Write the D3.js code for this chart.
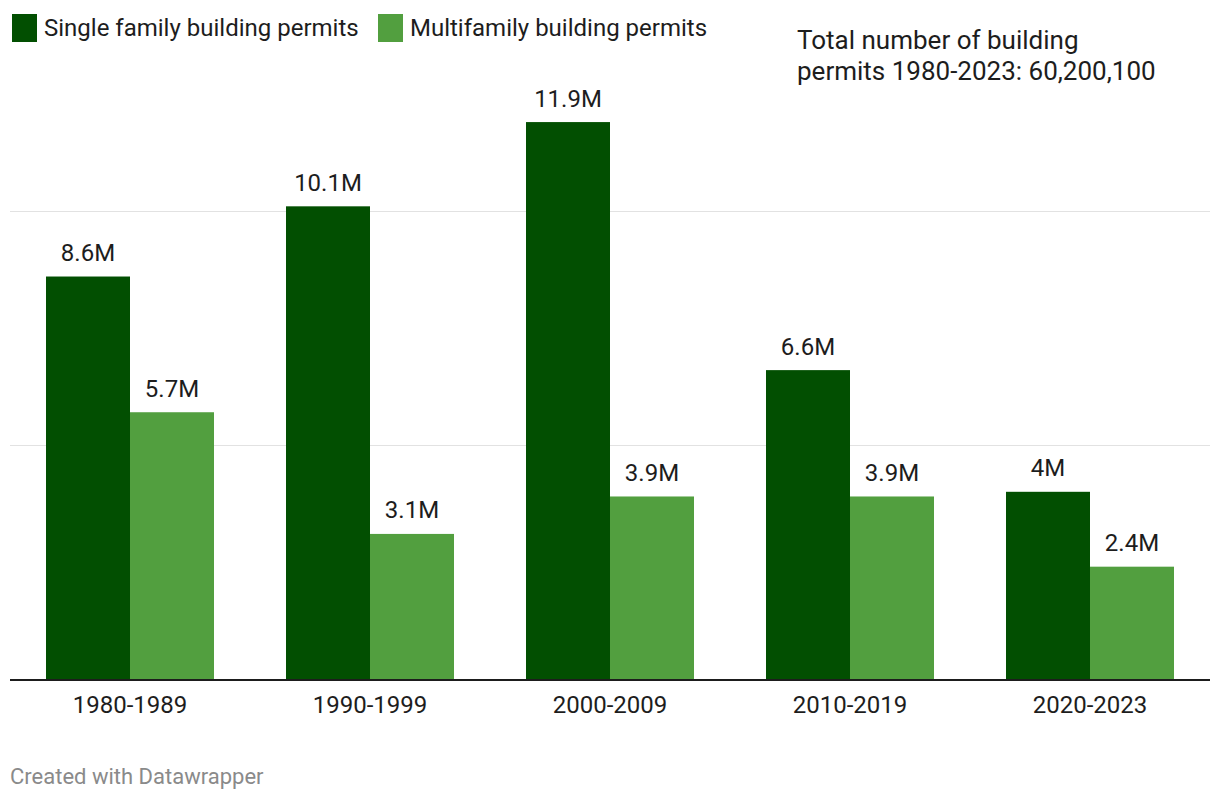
<!DOCTYPE html>
<html><head><meta charset="utf-8">
<script src="https://cdn.jsdelivr.net/npm/d3@7"></script>
<style>
html,body{margin:0;padding:0;background:#fff;}
svg{display:block;font-family:Roboto,"Noto Sans",sans-serif;}
</style></head>
<body>
<svg id="chart" width="1220" height="802"></svg>
<script>
const categories = ["1980-1989","1990-1999","2000-2009","2010-2019","2020-2023"];
const seriesNames = ["Single family building permits","Multifamily building permits"];
const singleFamily = [8.6, 10.1, 11.9, 6.6, 4.0];
const multiFamily = [5.7, 3.1, 3.9, 3.9, 2.4];
const valueLabelsSingle = ["8.6M","10.1M","11.9M","6.6M","4M"];
const valueLabelsMulti = ["5.7M","3.1M","3.9M","3.9M","2.4M"];
const gridTicks = [5, 10];
const colors = ["#024f01", "#529f3f"];
const annotationLines = ["Total number of building", "permits 1980-2023: 60,200,100"];

const svg = d3.select("#chart");
const left = 10, right = 1210, baseY = 679;

const x0 = d3.scaleBand().domain(categories).range([left, right]).paddingInner(0.3).paddingOuter(0.15);
const x1 = d3.scaleBand().domain(seriesNames).range([0, x0.bandwidth()]);
const y = d3.scaleLinear().domain([0, 10]).range([baseY, 211]);

// gridlines
svg.append("g").selectAll("line").data(gridTicks).join("line")
  .attr("x1", left).attr("x2", right)
  .attr("y1", d => Math.round(y(d)) + 0.5).attr("y2", d => Math.round(y(d)) + 0.5)
  .attr("stroke", "#e2e2e2").attr("stroke-width", 1);

const data = categories.map((c, i) => ({cat: c, vals: [
  {s: seriesNames[0], v: singleFamily[i], lab: valueLabelsSingle[i], col: colors[0]},
  {s: seriesNames[1], v: multiFamily[i], lab: valueLabelsMulti[i], col: colors[1]}
]}));

const groups = svg.append("g").selectAll("g").data(data).join("g")
  .attr("transform", d => `translate(${x0(d.cat)},0)`);

groups.selectAll("rect").data(d => d.vals).join("rect")
  .attr("x", d => x1(d.s)).attr("width", x1.bandwidth())
  .attr("y", d => y(d.v)).attr("height", d => baseY - y(d.v))
  .attr("fill", d => d.col);

groups.selectAll("text").data(d => d.vals).join("text")
  .attr("x", d => x1(d.s) + x1.bandwidth() / 2)
  .attr("y", d => y(d.v) - 15.5)
  .attr("text-anchor", "middle")
  .attr("font-size", 24).attr("fill", "#1d1d1d")
  .text(d => d.lab);

// baseline
svg.append("line").attr("x1", left).attr("x2", right)
  .attr("y1", baseY + 1).attr("y2", baseY + 1)
  .attr("stroke", "#1d1d1d").attr("stroke-width", 2);

// x axis
const xAxis = d3.axisBottom(x0).tickSize(0).tickPadding(0);
const ax = svg.append("g").attr("transform", `translate(0,${baseY + 2})`).call(xAxis);
ax.select(".domain").remove();
ax.selectAll("text").attr("font-size", 24).attr("font-family", "Roboto").attr("fill", "#1d1d1d").attr("dy", "0").attr("y", 31.5);

// legend
const legendX = [12, 378];
const leg = svg.append("g").selectAll("g").data(seriesNames).join("g")
  .attr("transform", (d, i) => `translate(${legendX[i]},14)`);
leg.append("rect").attr("width", 25).attr("height", 28).attr("fill", (d, i) => colors[i]);
leg.append("text").attr("x", 32).attr("y", 21.5).attr("font-size", 24).attr("fill", "#1d1d1d").text(d => d);

// annotation
svg.append("g").selectAll("text").data(annotationLines).join("text")
  .attr("x", 797).attr("y", (d, i) => 49.4 + i * 31)
  .attr("font-size", 26).attr("fill", "#1d1d1d").text(d => d);

// footer
svg.append("text").attr("x", 10).attr("y", 784).attr("font-size", 22).attr("fill", "#8a8a8a")
  .text("Created with Datawrapper");
</script>
</body></html>
